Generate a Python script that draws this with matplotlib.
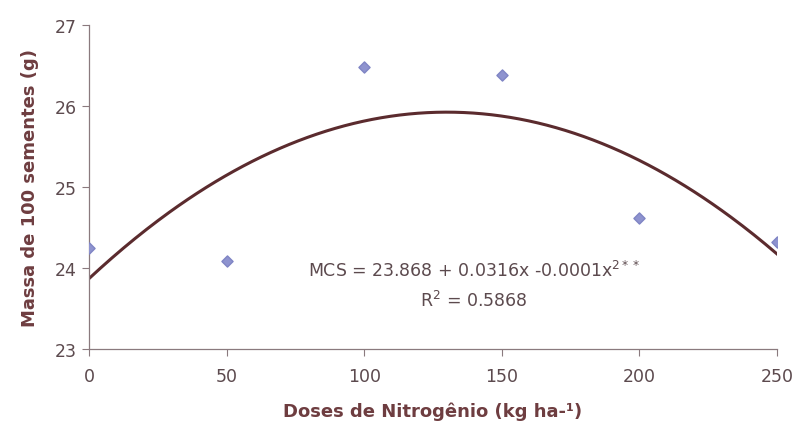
import matplotlib
matplotlib.use('Agg')
import matplotlib.pyplot as plt
import numpy as np

plt.rcParams['font.family'] = ['DejaVu Sans']
plt.rcParams['mathtext.default'] = 'regular'

doses = [0, 50, 100, 150, 200, 250]
massa = [24.25, 24.09, 26.48, 26.38, 24.62, 24.32]
# trendline coefficients (curve drawn in the original)
b0, b1, b2 = 23.868, 0.0316, -0.0001215

txt = '#5c4a4e'
lab = '#6e3d40'

fig = plt.figure(figsize=(7.98, 4.31), dpi=100)
ax = fig.add_axes([0.1115, 0.188, 0.862, 0.752])

x = np.linspace(0, 250, 300)
ax.plot(x, b0 + b1 * x + b2 * x ** 2, color='#5b2b2e', lw=2.2, zorder=2)
ax.scatter(doses, massa, marker='D', s=32, color='#8e93cf', edgecolor='#7f84c4', zorder=3)

ax.set_xlim(0, 250)
ax.set_ylim(23, 27)
ax.set_xticks(doses)
ax.set_yticks([23, 24, 25, 26, 27])
for s in ['top', 'right']:
    ax.spines[s].set_visible(False)
for s in ['left', 'bottom']:
    ax.spines[s].set_color('#8a7a7e')
    ax.spines[s].set_linewidth(0.9)
ax.tick_params(axis='both', colors='#8a7a7e', labelcolor=txt, labelsize=12.5, length=5, direction='out')
ax.tick_params(axis='x', pad=8)
ax.tick_params(axis='y', pad=4)

ax.set_xlabel('Doses de Nitrogênio (kg ha-¹)', fontsize=13, fontweight='bold', color=lab, labelpad=12)
ax.set_ylabel('Massa de 100 sementes (g)', fontsize=13, fontweight='bold', color=lab, labelpad=11)

ax.text(140, 23.98, r'MCS = 23.868 + 0.0316x -0.0001x$^{2**}$', ha='center', va='center',
        fontsize=12.5, color=txt)
ax.text(140, 23.6, r'R$^{2}$ = 0.5868', ha='center', va='center', fontsize=12.5, color=txt)

fig.savefig('out.png', dpi=100)
